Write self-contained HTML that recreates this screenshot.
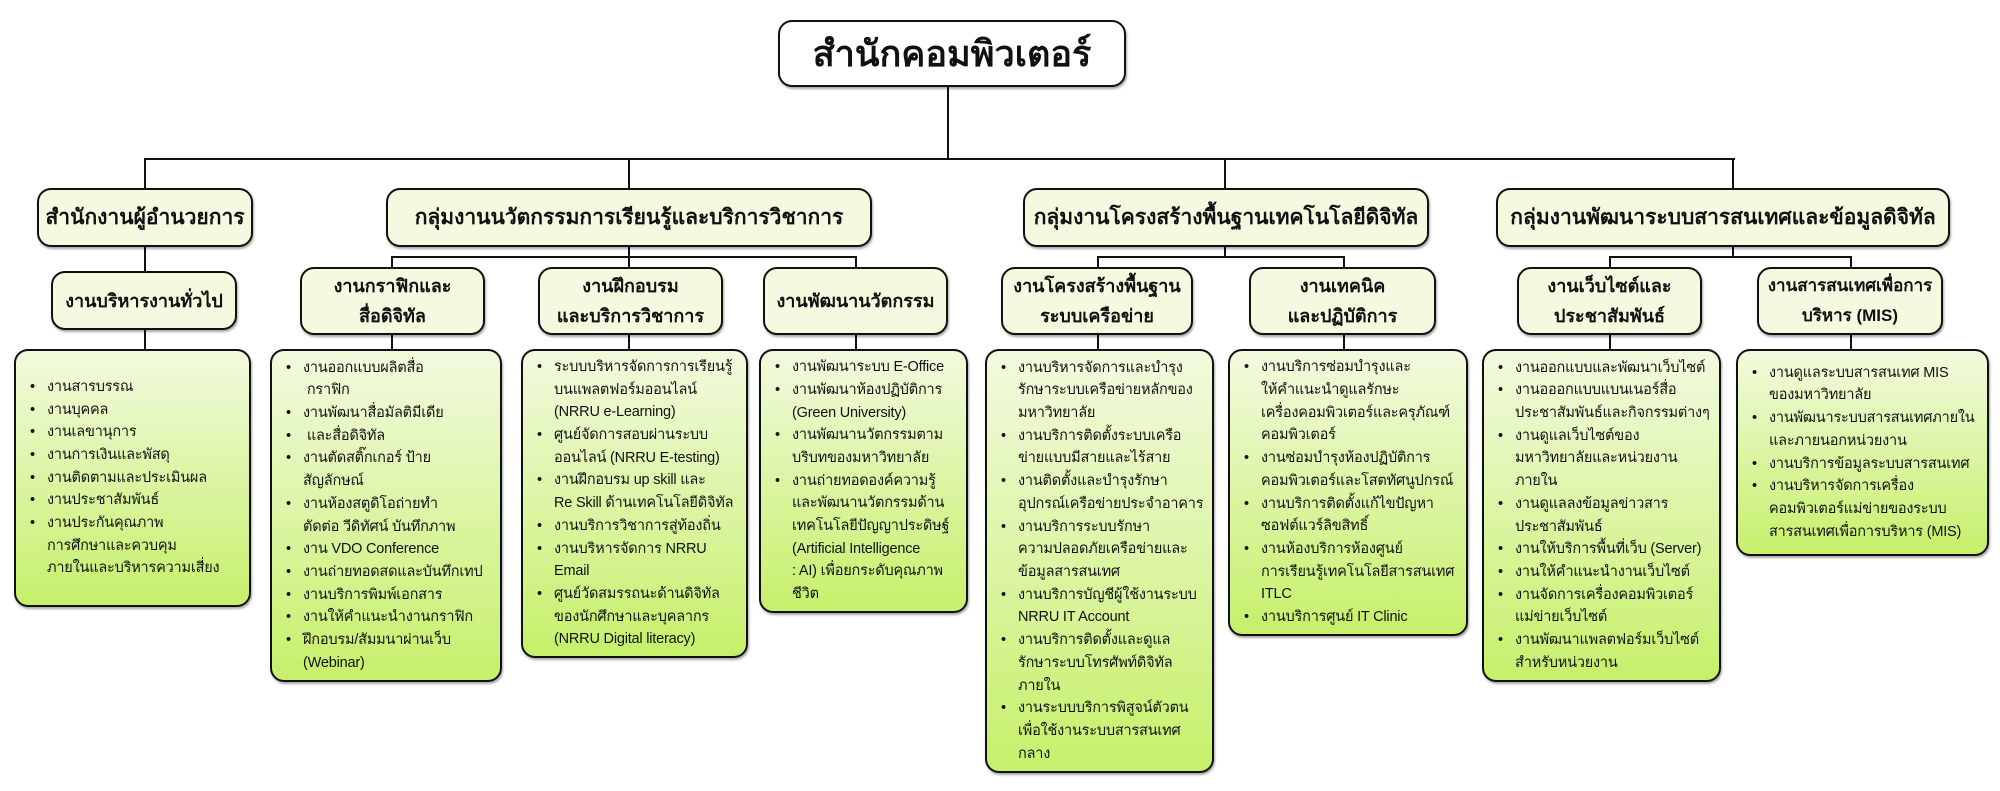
<!DOCTYPE html>
<html><head><meta charset="utf-8">
<style>
body{margin:0;width:2000px;height:791px;background:#fff;position:relative;overflow:hidden;font-family:"Liberation Sans","Noto Sans CJK SC",sans-serif;color:#111}
.b{position:absolute;box-sizing:border-box;border:2.5px solid #111;border-radius:14px;background:#f3fadf;display:flex;align-items:center;justify-content:center;text-align:center;font-weight:bold;box-shadow:1px 2px 2px rgba(0,0,0,.35);white-space:nowrap}
.l1{font-size:21px}
.l2{font-size:18px;line-height:30px}
.c{position:absolute;box-sizing:border-box;border:2.5px solid #111;border-radius:14px;background:linear-gradient(#f2fadf,#c6f06a);display:flex;flex-direction:column;justify-content:center;font-size:14.5px;line-height:22.7px;box-shadow:1px 2px 2px rgba(0,0,0,.35);white-space:nowrap;letter-spacing:-0.2px}
.c div{position:relative;padding-left:31px}
.c div:before{content:"•";position:absolute;left:14px;top:0}
.h{position:absolute;height:2px;background:#111}
.v{position:absolute;width:2px;background:#111}
</style></head><body>
<div class="v" style="left:947px;top:87px;height:72px"></div>
<div class="h" style="left:145px;top:158px;width:1590px"></div>
<div class="v" style="left:144px;top:158px;height:31px"></div>
<div class="v" style="left:628px;top:158px;height:31px"></div>
<div class="v" style="left:1224px;top:158px;height:31px"></div>
<div class="v" style="left:1732px;top:158px;height:31px"></div>
<div class="v" style="left:144px;top:246px;height:26px"></div>
<div class="v" style="left:144px;top:329px;height:21px"></div>
<div class="v" style="left:628px;top:246px;height:11px"></div>
<div class="h" style="left:391px;top:256px;width:466px"></div>
<div class="v" style="left:391px;top:256px;height:12px"></div>
<div class="v" style="left:628px;top:256px;height:12px"></div>
<div class="v" style="left:855px;top:256px;height:12px"></div>
<div class="v" style="left:1224px;top:246px;height:11px"></div>
<div class="h" style="left:1097px;top:256px;width:248px"></div>
<div class="v" style="left:1097px;top:256px;height:12px"></div>
<div class="v" style="left:1343px;top:256px;height:12px"></div>
<div class="v" style="left:1732px;top:246px;height:11px"></div>
<div class="h" style="left:1609px;top:256px;width:243px"></div>
<div class="v" style="left:1609px;top:256px;height:12px"></div>
<div class="v" style="left:1850px;top:256px;height:12px"></div>
<div class="v" style="left:391px;top:334px;height:16px"></div>
<div class="v" style="left:628px;top:334px;height:16px"></div>
<div class="v" style="left:855px;top:334px;height:16px"></div>
<div class="v" style="left:1097px;top:334px;height:16px"></div>
<div class="v" style="left:1343px;top:334px;height:16px"></div>
<div class="v" style="left:1609px;top:334px;height:16px"></div>
<div class="v" style="left:1850px;top:334px;height:16px"></div>

<div class="b" style="left:778px;top:20px;width:348px;height:67px;font-size:36px;background:#fff">สำนักคอมพิวเตอร์</div>
<div class="b l1" style="left:37px;top:188px;width:216px;height:59px">สำนักงานผู้อำนวยการ</div>
<div class="b l1" style="left:386px;top:188px;width:486px;height:59px">กลุ่มงานนวัตกรรมการเรียนรู้และบริการวิชาการ</div>
<div class="b l1" style="left:1023px;top:188px;width:406px;height:59px">กลุ่มงานโครงสร้างพื้นฐานเทคโนโลยีดิจิทัล</div>
<div class="b l1" style="left:1496px;top:188px;width:454px;height:59px">กลุ่มงานพัฒนาระบบสารสนเทศและข้อมูลดิจิทัล</div>
<div class="b l2" style="left:51px;top:271px;width:186px;height:59px">งานบริหารงานทั่วไป</div>
<div class="b l2" style="left:300px;top:267px;width:185px;height:68px">งานกราฟิกและ<br>สื่อดิจิทัล</div>
<div class="b l2" style="left:538px;top:267px;width:185px;height:68px">งานฝึกอบรม<br>และบริการวิชาการ</div>
<div class="b l2" style="left:763px;top:267px;width:185px;height:68px">งานพัฒนานวัตกรรม</div>
<div class="b l2" style="left:1001px;top:267px;width:192px;height:68px">งานโครงสร้างพื้นฐาน<br>ระบบเครือข่าย</div>
<div class="b l2" style="left:1249px;top:267px;width:187px;height:68px">งานเทคนิค<br>และปฏิบัติการ</div>
<div class="b l2" style="left:1517px;top:267px;width:185px;height:68px">งานเว็บไซต์และ<br>ประชาสัมพันธ์</div>
<div class="b l2" style="left:1757px;top:267px;width:186px;height:68px;font-size:17px">งานสารสนเทศเพื่อการ<br>บริหาร (MIS)</div>

<div class="c" style="left:14px;top:349px;width:237px;height:258px">
<div>งานสารบรรณ</div><div>งานบุคคล</div><div>งานเลขานุการ</div><div>งานการเงินและพัสดุ</div><div>งานติดตามและประเมินผล</div><div>งานประชาสัมพันธ์</div><div>งานประกันคุณภาพ<br>การศึกษาและควบคุม<br>ภายในและบริหารความเสี่ยง</div>
</div>
<div class="c" style="left:270px;top:349px;width:232px;height:333px">
<div>งานออกแบบผลิตสื่อ<br>&nbsp;กราฟิก</div><div>งานพัฒนาสื่อมัลติมีเดีย</div><div>&nbsp;และสื่อดิจิทัล</div><div>งานตัดสติ๊กเกอร์ ป้าย<br>สัญลักษณ์</div><div>งานห้องสตูดิโอถ่ายทำ<br>ตัดต่อ วีดิทัศน์ บันทึกภาพ</div><div>งาน VDO Conference</div><div>งานถ่ายทอดสดและบันทึกเทป</div><div>งานบริการพิมพ์เอกสาร</div><div>งานให้คำแนะนำงานกราฟิก</div><div>ฝึกอบรม/สัมมนาผ่านเว็บ<br>(Webinar)</div>
</div>
<div class="c" style="left:521px;top:349px;width:227px;height:309px">
<div>ระบบบริหารจัดการการเรียนรู้<br>บนแพลตฟอร์มออนไลน์<br>(NRRU e-Learning)</div><div>ศูนย์จัดการสอบผ่านระบบ<br>ออนไลน์ (NRRU E-testing)</div><div>งานฝึกอบรม up skill และ<br>Re Skill ด้านเทคโนโลยีดิจิทัล</div><div>งานบริการวิชาการสู่ท้องถิ่น</div><div>งานบริหารจัดการ NRRU<br>Email</div><div>ศูนย์วัดสมรรถนะด้านดิจิทัล<br>ของนักศึกษาและบุคลากร<br>(NRRU Digital literacy)</div>
</div>
<div class="c" style="left:759px;top:349px;width:209px;height:264px">
<div>งานพัฒนาระบบ E-Office</div><div>งานพัฒนาห้องปฏิบัติการ<br>(Green University)</div><div>งานพัฒนานวัตกรรมตาม<br>บริบทของมหาวิทยาลัย</div><div>งานถ่ายทอดองค์ความรู้<br>และพัฒนานวัตกรรมด้าน<br>เทคโนโลยีปัญญาประดิษฐ์<br>(Artificial Intelligence<br>: AI) เพื่อยกระดับคุณภาพ<br>ชีวิต</div>
</div>
<div class="c" style="left:985px;top:349px;width:229px;height:424px">
<div>งานบริหารจัดการและบำรุง<br>รักษาระบบเครือข่ายหลักของ<br>มหาวิทยาลัย</div><div>งานบริการติดตั้งระบบเครือ<br>ข่ายแบบมีสายและไร้สาย</div><div>งานติดตั้งและบำรุงรักษา<br>อุปกรณ์เครือข่ายประจำอาคาร</div><div>งานบริการระบบรักษา<br>ความปลอดภัยเครือข่ายและ<br>ข้อมูลสารสนเทศ</div><div>งานบริการบัญชีผู้ใช้งานระบบ<br>NRRU IT Account</div><div>งานบริการติดตั้งและดูแล<br>รักษาระบบโทรศัพท์ดิจิทัล<br>ภายใน</div><div>งานระบบบริการพิสูจน์ตัวตน<br>เพื่อใช้งานระบบสารสนเทศ<br>กลาง</div>
</div>
<div class="c" style="left:1228px;top:349px;width:240px;height:287px">
<div>งานบริการซ่อมบำรุงและ<br>ให้คำแนะนำดูแลรักษะ<br>เครื่องคอมพิวเตอร์และครุภัณฑ์<br>คอมพิวเตอร์</div><div>งานซ่อมบำรุงห้องปฏิบัติการ<br>คอมพิวเตอร์และโสตทัศนูปกรณ์</div><div>งานบริการติดตั้งแก้ไขปัญหา<br>ซอฟต์แวร์ลิขสิทธิ์</div><div>งานห้องบริการห้องศูนย์<br>การเรียนรู้เทคโนโลยีสารสนเทศ<br>ITLC</div><div>งานบริการศูนย์ IT Clinic</div>
</div>
<div class="c" style="left:1482px;top:349px;width:239px;height:333px">
<div>งานออกแบบและพัฒนาเว็บไซต์</div><div>งานอออกแบบแบนเนอร์สื่อ<br>ประชาสัมพันธ์และกิจกรรมต่างๆ</div><div>งานดูแลเว็บไซต์ของ<br>มหาวิทยาลัยและหน่วยงาน<br>ภายใน</div><div>งานดูแลลงข้อมูลข่าวสาร<br>ประชาสัมพันธ์</div><div>งานให้บริการพื้นที่เว็บ (Server)</div><div>งานให้คำแนะนำงานเว็บไซต์</div><div>งานจัดการเครื่องคอมพิวเตอร์<br>แม่ข่ายเว็บไซต์</div><div>งานพัฒนาแพลตฟอร์มเว็บไซต์<br>สำหรับหน่วยงาน</div>
</div>
<div class="c" style="left:1736px;top:349px;width:253px;height:207px">
<div>งานดูแลระบบสารสนเทศ MIS<br>ของมหาวิทยาลัย</div><div>งานพัฒนาระบบสารสนเทศภายใน<br>และภายนอกหน่วยงาน</div><div>งานบริการข้อมูลระบบสารสนเทศ</div><div>งานบริหารจัดการเครื่อง<br>คอมพิวเตอร์แม่ข่ายของระบบ<br>สารสนเทศเพื่อการบริหาร (MIS)</div>
</div>
</body></html>
